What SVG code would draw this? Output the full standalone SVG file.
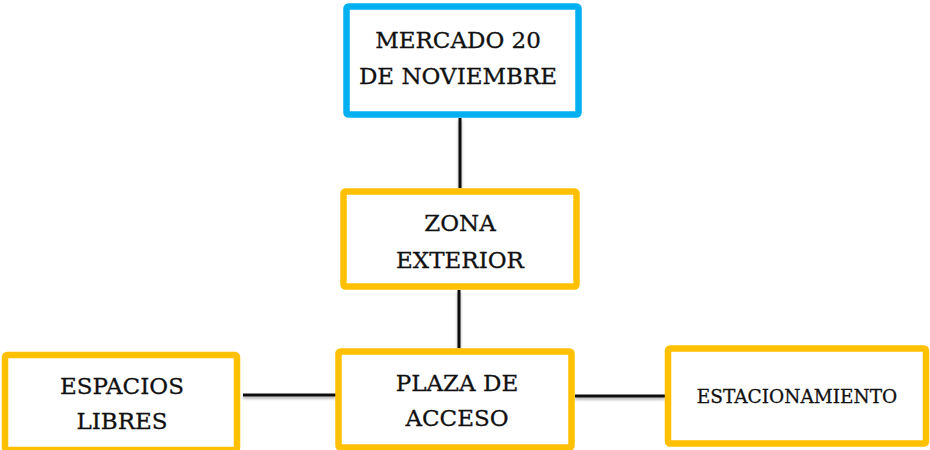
<svg xmlns="http://www.w3.org/2000/svg" width="930" height="450" viewBox="0 0 930 450">
<defs>
<style>
.box{fill:#fff;stroke-width:6.5}
.blue{stroke:#00B0F0}
.gold{stroke:#FFC000}
.t{font-family:"DejaVu Serif","Liberation Serif",serif;font-size:23px;fill:#111;stroke:#111;stroke-width:0.3;text-anchor:middle}
.s{font-size:18.5px}
.c{stroke:#111;stroke-width:3;fill:none}
</style>
<filter id="sh" x="-20%" y="-20%" width="140%" height="160%"><feDropShadow dx="0" dy="2" stdDeviation="1.5" flood-color="#000" flood-opacity="0.35"/></filter>
</defs>
<rect width="930" height="450" fill="#fff"/>
<g id="connectors" filter="url(#sh)">
<line class="c" x1="460" y1="118" x2="460" y2="188"/>
<line class="c" x1="459" y1="290" x2="459" y2="348"/>
<line class="c" x1="243" y1="395" x2="336" y2="395"/>
<line class="c" x1="575" y1="396" x2="665" y2="396"/>
</g>
<g id="mercado">
<rect class="box blue" x="346.5" y="6.5" width="232" height="108" rx="2"/>
<text class="t" x="458" y="48">MERCADO 20</text>
<text class="t" x="458" y="84">DE NOVIEMBRE</text>
</g>
<g id="zona">
<rect class="box gold" x="343.5" y="191.5" width="233" height="95" rx="2"/>
<text class="t" x="460" y="231">ZONA</text>
<text class="t" x="460" y="268">EXTERIOR</text>
</g>
<g id="espacios">
<rect class="box gold" x="5" y="355" width="232" height="95" rx="2"/>
<text class="t" x="122" y="394">ESPACIOS</text>
<text class="t" x="122" y="429">LIBRES</text>
</g>
<g id="plaza">
<rect class="box gold" x="338.5" y="351.5" width="233" height="96" rx="2"/>
<text class="t" x="457" y="391">PLAZA DE</text>
<text class="t" x="457" y="426">ACCESO</text>
</g>
<g id="estacionamiento">
<rect class="box gold" x="668" y="348.5" width="258" height="95" rx="2"/>
<text class="t s" x="797" y="403">ESTACIONAMIENTO</text>
</g>
</svg>
